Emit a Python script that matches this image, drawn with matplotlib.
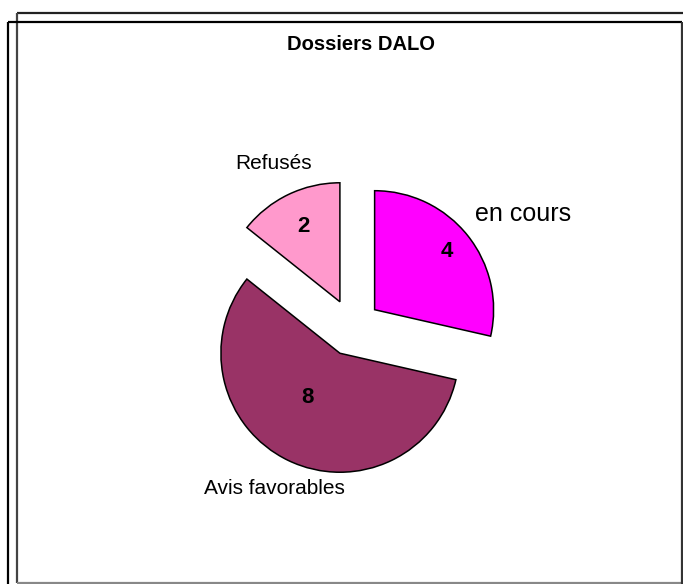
import matplotlib

matplotlib.use("Agg")
import matplotlib.pyplot as plt
import numpy as np

plt.rcParams["font.family"] = ["Liberation Sans", "DejaVu Sans"]

# data
categories = ["en cours", "Avis favorables", "Refusés"]
counts = [4, 8, 2]
colors = ["#FF00FF", "#993366", "#FF99CC"]
title = "Dossiers DALO"

# label placement: radial distance (pie radii) and angular nudge (degrees)
name_dist = [1.72, 1.50, 1.53]
name_turn = [-5, 0, 0]
name_size = [18, 15, 15]
value_dist = [0.78, 0.46, 0.70]
value_turn = [0, -7, 0]

fig = plt.figure(figsize=(6.83, 5.84), dpi=100)
fig.patch.set_facecolor("white")

# the two offset frames around the chart
W, H = 683, 584
frame_kw = dict(transform=fig.transFigure, lw=1.6, solid_capstyle="butt")
fig.add_artist(plt.Line2D([17 / W, 1], [1 - 13 / H] * 2, color="#222222", **frame_kw))
fig.add_artist(plt.Line2D([17 / W] * 2, [1 - 13 / H, 1 - 583 / H], color="#444444", **frame_kw))
fig.add_artist(plt.Line2D([17 / W, 1], [1 - 583 / H] * 2, color="#888888", **frame_kw))
fig.add_artist(plt.Line2D([8 / W, 682 / W], [1 - 22 / H] * 2, color="black", **frame_kw))
fig.add_artist(plt.Line2D([8 / W] * 2, [1 - 22 / H, 0], color="black", **frame_kw))
fig.add_artist(plt.Line2D([682 / W] * 2, [1 - 22 / H, 0], color="#333333", **frame_kw))

fig.text(361 / W, 1 - 44 / H, title, ha="center", va="center",
         fontsize=14.5, fontweight="bold")

ax = fig.add_axes([0.1673, 0.0317, 0.697, 0.815])

explode = [0.24] * len(counts)
wedges, _ = ax.pie(counts, colors=colors, explode=explode, startangle=90,
                   counterclock=False, radius=1,
                   wedgeprops=dict(edgecolor="black", linewidth=1.1))
# pie() resets the limits, so set them afterwards
ax.set_xlim(-2, 2)
ax.set_ylim(-2, 2)
ax.axis("off")

for i, w in enumerate(wedges):
    mid = (w.theta1 + w.theta2) / 2
    a = np.deg2rad(mid + name_turn[i])
    ax.text(name_dist[i] * np.cos(a), name_dist[i] * np.sin(a), categories[i],
            ha="center", va="center", fontsize=name_size[i], clip_on=False)
    a = np.deg2rad(mid + value_turn[i])
    r = explode[i] + value_dist[i]
    ax.text(r * np.cos(a), r * np.sin(a), str(counts[i]), ha="center",
            va="center", fontsize=16, fontweight="bold")

fig.savefig("out.png", dpi=100)
